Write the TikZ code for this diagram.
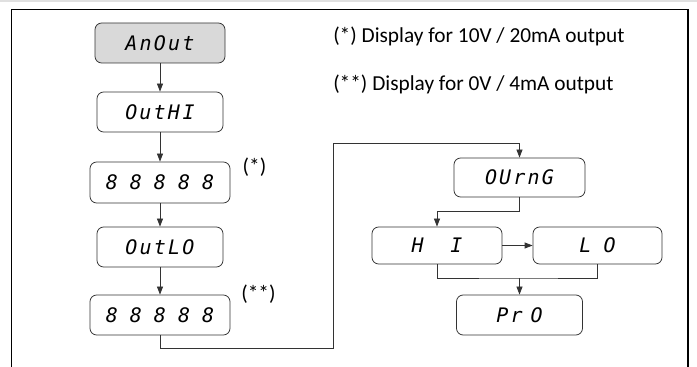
\documentclass[tikz,border=0pt]{standalone}
\usepackage{fontspec}
\setmainfont{Carlito}
\newfontfamily\segfont[LetterSpace=11]{DejaVu Sans Mono Oblique}
\newfontfamily\segwide[LetterSpace=60]{DejaVu Sans Mono Oblique}
\usetikzlibrary{arrows.meta}

\tikzset{
  disp/.style={draw=black!80, rounded corners=5pt, line width=0.6pt, inner sep=0pt,
    minimum height=30pt, font=\segfont\fontsize{15}{17}\selectfont},
  link/.style={draw=black!80, line width=0.6pt},
  tip/.style={-{Triangle[length=6pt,width=4.5pt]}},
  note/.style={anchor=base west, inner sep=0pt, font=\fontsize{16}{18}\selectfont},
  starmark/.style={inner sep=0pt, font=\fontsize{16}{18}\selectfont}
}
\newcommand{\wide}[1]{{\segwide\fontsize{15}{17}\selectfont#1}}

\begin{document}
\begin{tikzpicture}[x=0.75pt,y=0.75pt,yscale=-1,xscale=1]
\useasboundingbox (0,0) rectangle (697,367);

%Frame
\fill [black!12] (0,0) rectangle (697,2);
\draw [line width=1.2pt]  (11.5,367) -- (11.5,9.5) -- (688,9.5) -- (688,367) ;

%Left column
\node [disp, fill=black!15, minimum width=97.5pt] (anout) at (160,43) {AnOut};
\node [disp, minimum width=94.5pt] (outhi) at (160,112) {OutH\hspace{2pt}I};
\node [disp, minimum width=105pt, minimum height=30.75pt] (dispa) at (160,182.5) {\wide{88888}};
\node [disp, minimum width=94.5pt] (outlo) at (160,247) {OutLO};
\node [disp, minimum width=105pt] (dispb) at (160,315) {\wide{88888}};

% Text Node
\node [starmark] (stara) at (254.5,167) {(*)};
\node [starmark] (starb) at (258.5,294) {(**)};
\node [note] (notea) at (333,43) {(*) Display for 10V / 20mA output};
\node [note] (noteb) at (333,90.5) {(**) Display for 0V / 4mA output};

%Right column
\node [disp, minimum width=98.25pt, minimum height=29.25pt] (ourng) at (519.5,177.5) {OUrnG\hspace{16.5pt}};
\node [disp, minimum width=97.5pt, minimum height=27.75pt] (hi) at (437,245.5) {H\hspace{20pt}I\hspace{10.5pt}};
\node [disp, minimum width=96.75pt, minimum height=27.75pt] (lo) at (597.5,245.5) {L\hspace{9pt}O\hspace{3pt}};
\node [disp, minimum width=94.5pt] (pro) at (519.5,315) {Pr\hspace{6pt}O\hspace{29.5pt}};

\coordinate (loopa) at (333,348);
\coordinate (loopb) at (333,143);
\coordinate (merge) at (519.5,278);

%Connectors
\draw [link, tip] (anout) -- (outhi);
\draw [link, tip] (outhi) -- (dispa);
\draw [link, tip] (dispa) -- (outlo);
\draw [link, tip] (outlo) -- (dispb);
\draw [link, tip] (dispb.south) |- (loopa) -- (loopb) -| (ourng.north);
\draw [link, tip] (ourng.south) -- ++(0,14) -| (hi.north);
\draw [link, tip] (hi) -- (lo);
\draw [link] (hi.south) |- (merge) -| (lo.south);
\draw [link, tip] (merge) -- (pro.north);

\end{tikzpicture}
\end{document}
